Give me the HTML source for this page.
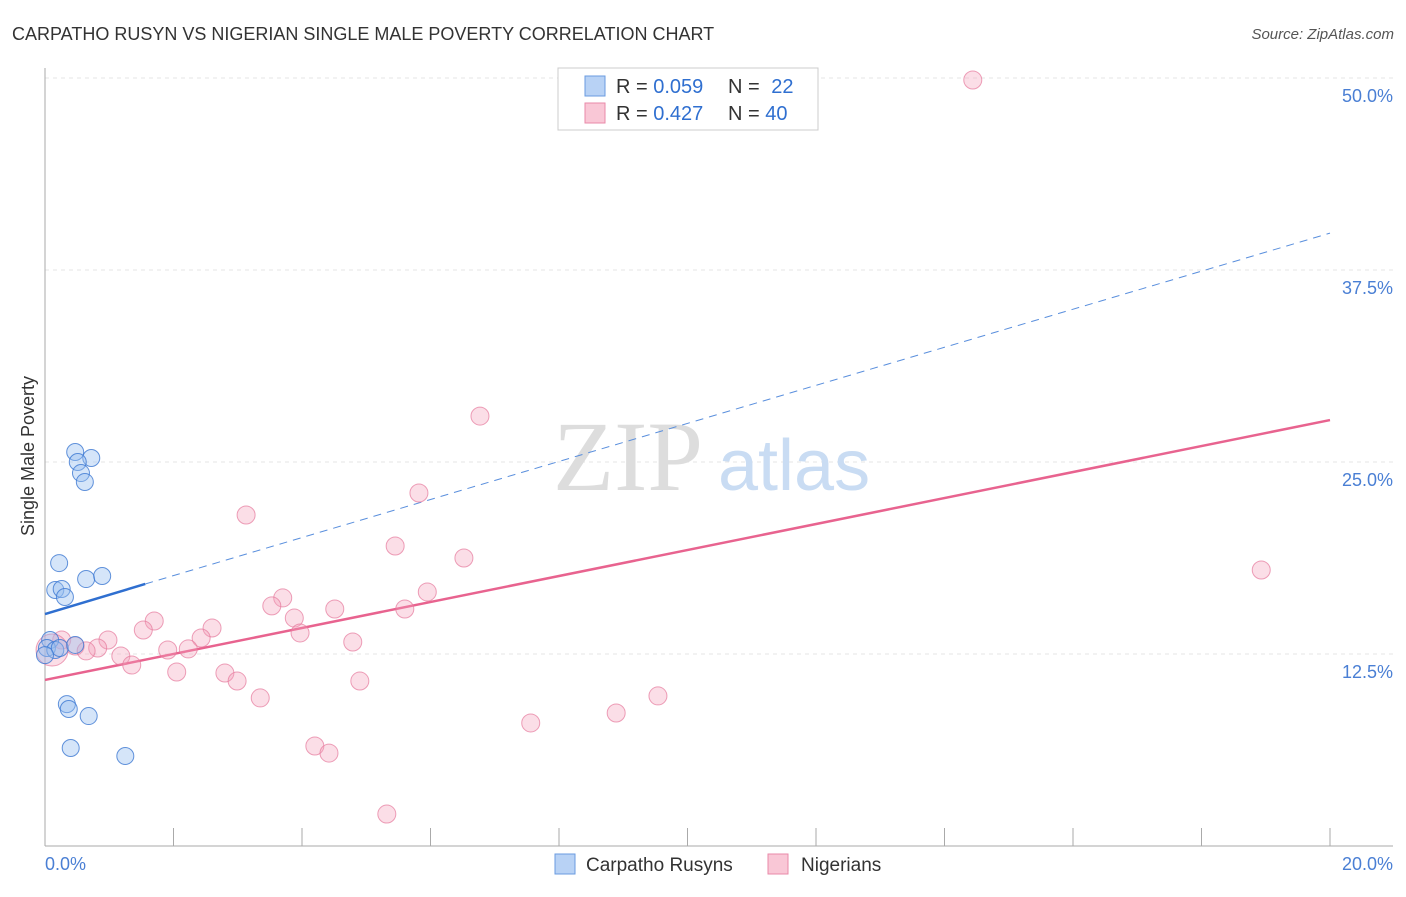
<!DOCTYPE html>
<html><head><meta charset="utf-8"><style>
body{margin:0;background:#fff;font-family:"Liberation Sans",sans-serif}
svg text{font-family:"Liberation Sans",sans-serif}
</style></head><body>
<svg width="1406" height="892">
<text x="12" y="40" font-size="18" fill="#333">CARPATHO RUSYN VS NIGERIAN SINGLE MALE POVERTY CORRELATION CHART</text>
<text x="1394" y="39" font-size="15" fill="#555" font-style="italic" text-anchor="end">Source: ZipAtlas.com</text>
<g id="grid"></g>
<text x="553" y="490" font-size="100" fill="#ddd" style="font-family:'Liberation Serif',serif">ZIP</text>
<text x="718" y="490" font-size="72" fill="#c9dcf3">atlas</text>
<line x1="45" y1="68" x2="45" y2="846" stroke="#aaa"/>
<line x1="45" y1="846" x2="1393" y2="846" stroke="#aaa"/>
<g id="ticks"></g>
<text transform="translate(34,456) rotate(-90)" font-size="18" fill="#333" text-anchor="middle">Single Male Poverty</text>
<text x="45" y="870" font-size="18" fill="#4a7fd4">0.0%</text>
<text x="1393" y="870" font-size="18" fill="#4a7fd4" text-anchor="end">20.0%</text>
<g id="lines"></g>
<g id="points"></g>
<g>
<rect x="558" y="68" width="260" height="62" fill="#fff" stroke="#ccc"/>
<rect x="585" y="76" width="20" height="20" fill="#b8d2f5" stroke="#6a9be0"/>
<rect x="585" y="103" width="20" height="20" fill="#f9c7d6" stroke="#e98aa8"/>
<text x="616" y="93" font-size="20" fill="#333">R = <tspan fill="#2f6fd0">0.059</tspan></text>
<text x="728" y="93" font-size="20" fill="#333">N = <tspan fill="#2f6fd0" dx="6">22</tspan></text>
<text x="616" y="120" font-size="20" fill="#333">R = <tspan fill="#2f6fd0">0.427</tspan></text>
<text x="728" y="120" font-size="20" fill="#333">N = <tspan fill="#2f6fd0">40</tspan></text>
</g>
<g>
<rect x="555" y="854" width="20" height="20" fill="#b8d2f5" stroke="#6a9be0"/>
<text x="586" y="871" font-size="19" fill="#333">Carpatho Rusyns</text>
<rect x="768" y="854" width="20" height="20" fill="#f9c7d6" stroke="#e98aa8"/>
<text x="801" y="871" font-size="19" fill="#333">Nigerians</text>
</g>
</svg>
<script>
const yTicks=[12.5,25,37.5,50];
const yTickLabels=["12.5%","25.0%","37.5%","50.0%"];
const xTickVals=[0,2,4,6,8,10,12,14,16,18,20];
const blueX=[0.47,0.72,0.51,0.56,0.62,0.22,0.16,0.26,0.31,0.64,0.89,0.08,0.03,0.16,0.23,0.47,0.34,0.37,0.68,0.40,1.25,0.0];
const blueY=[25.65,25.26,25.0,24.28,23.7,18.42,16.67,16.73,16.21,17.38,17.58,13.41,12.89,12.76,12.89,13.09,9.24,8.92,8.46,6.38,5.86,12.43];
const pinkX=[14.44,6.77,5.82,3.13,5.45,6.52,18.93,5.95,3.70,3.53,4.51,5.60,1.70,3.88,2.60,1.53,3.97,0.98,2.43,4.79,0.26,0.82,0.47,1.91,2.23,0.64,1.18,1.35,2.05,2.80,2.99,4.90,3.35,9.54,8.89,7.56,4.20,4.42,5.32,0.11];
const pinkY=[49.87,27.99,22.98,21.55,19.53,18.75,17.97,16.54,16.15,15.63,15.43,15.43,14.65,14.84,14.19,14.06,13.87,13.41,13.54,13.28,13.41,12.89,13.02,12.76,12.83,12.70,12.37,11.78,11.33,11.26,10.74,10.74,9.64,9.77,8.66,8.01,6.51,6.05,2.08,12.76];
const pinkLine=[0,10.81,20,27.73];
const blueLine=[0,15.1,1.56,17.06,20,39.9];
const X=v=>45+v/20*1285, Y=v=>846-v/12.5*192;
const NS="http://www.w3.org/2000/svg";
function mk(tag,attrs,parent){const e=document.createElementNS(NS,tag);for(const k in attrs)e.setAttribute(k,attrs[k]);document.getElementById(parent).appendChild(e);return e;}
yTicks.forEach((t,i)=>{
 const l=mk('line',{x1:45,x2:1393,y1:Y(t),y2:Y(t),stroke:'#e6e6e6','stroke-dasharray':'4,4'},'grid');
 
 
 const tx=mk('text',{x:1393,y:Y(t)+24,'font-size':18,fill:'#4a7fd4','text-anchor':'end'},'grid');
 tx.textContent=yTickLabels[i];
 
 
});
xTickVals.forEach(v=>{
 const l=mk('line',{x1:X(v),x2:X(v),y1:828,y2:846,stroke:'#aaa'},'ticks');
 
 
});
let pl=mk('line',{x1:X(pinkLine[0]),y1:Y(pinkLine[1]),x2:X(pinkLine[2]),y2:Y(pinkLine[3]),stroke:'#e8638f','stroke-width':2.5},'lines');


let bl=mk('line',{x1:X(blueLine[0]),y1:Y(blueLine[1]),x2:X(blueLine[2]),y2:Y(blueLine[3]),stroke:'#2f6fd0','stroke-width':2.5},'lines');


let bd=mk('line',{x1:X(blueLine[2]),y1:Y(blueLine[3]),x2:X(blueLine[4]),y2:Y(blueLine[5]),stroke:'#5a8fdd','stroke-width':1,'stroke-dasharray':'8,6'},'lines');


pinkX.forEach((x,i)=>{
 const c=mk('circle',{cx:X(x),cy:Y(pinkY[i]),r:i==pinkX.length-1?16:9,fill:'rgba(244,160,187,0.35)',stroke:'rgba(230,120,155,0.7)','stroke-width':1},'points');
 
 
});
blueX.forEach((x,i)=>{
 const c=mk('circle',{cx:X(x),cy:Y(blueY[i]),r:8.5,fill:'rgba(150,190,240,0.4)',stroke:'rgba(60,120,210,0.8)','stroke-width':1},'points');
 
 
});
</script>
</body></html>
